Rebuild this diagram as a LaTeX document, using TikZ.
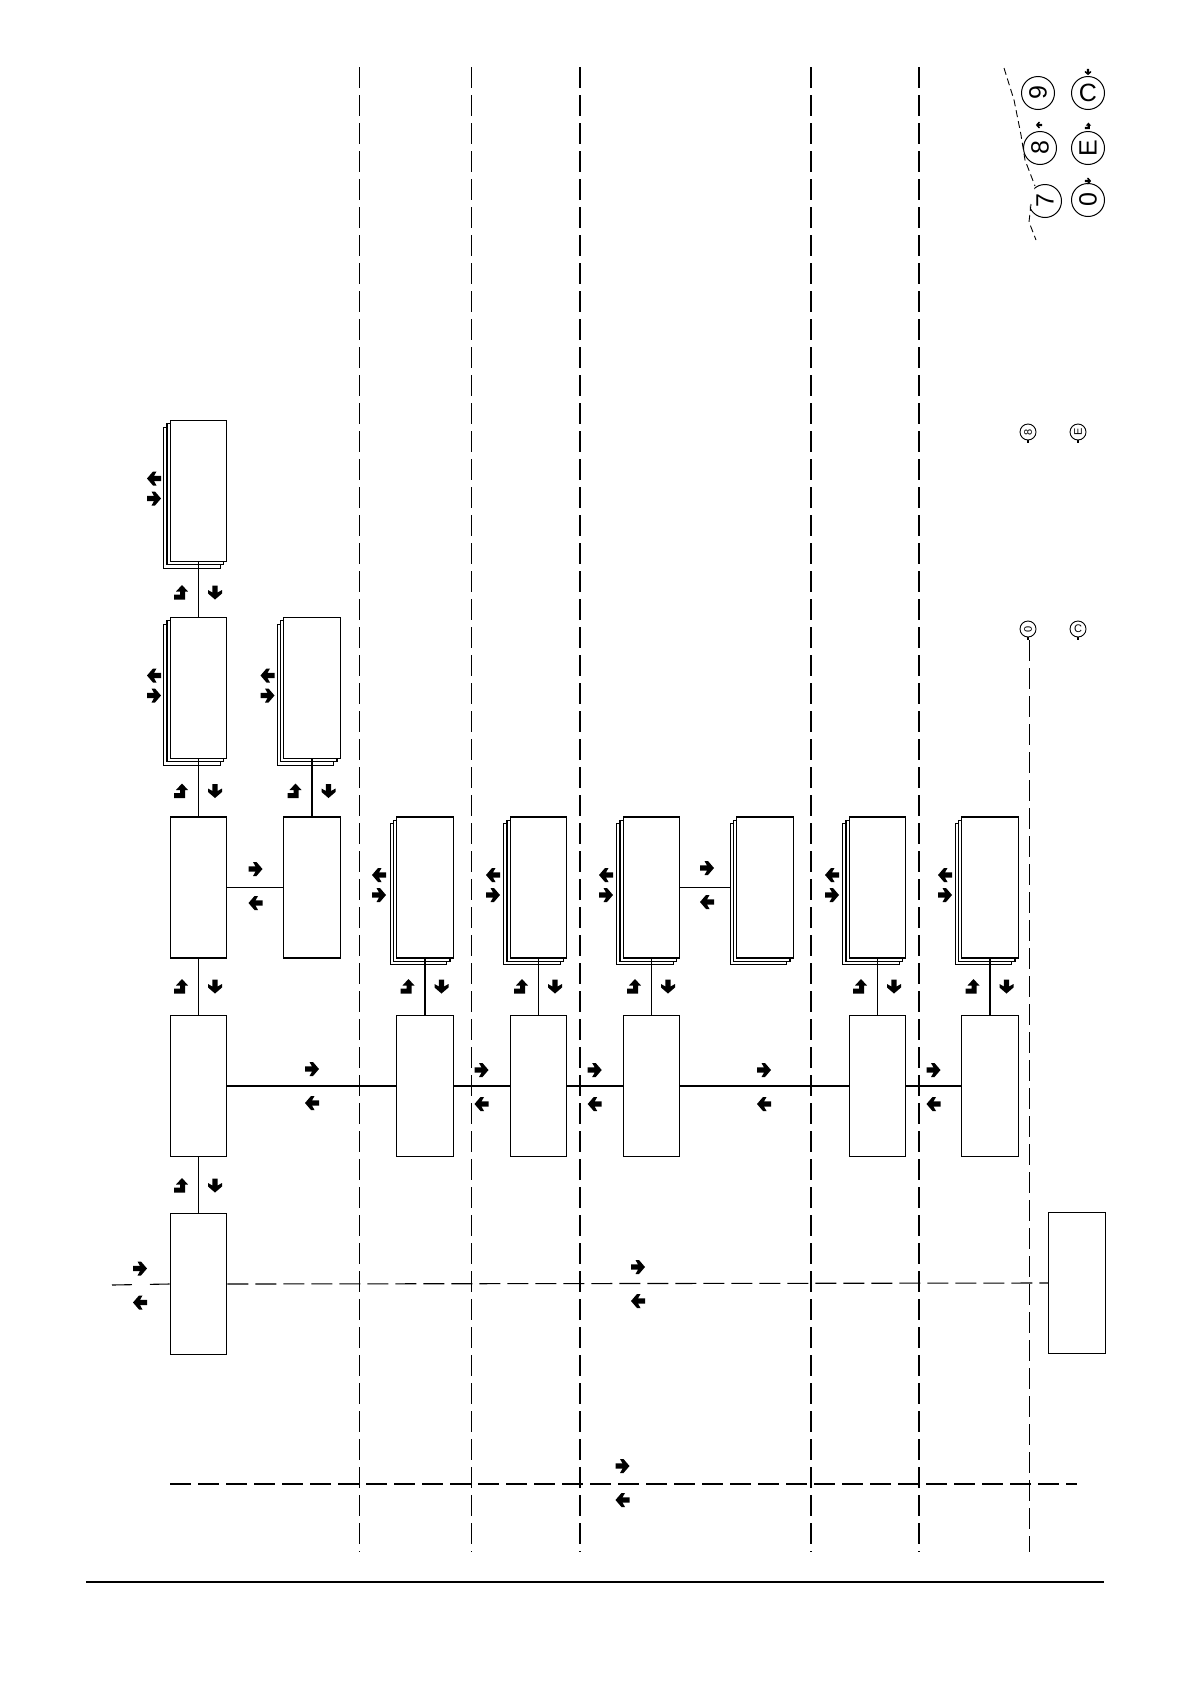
\documentclass[tikz,border=0pt]{standalone}
\usepackage{fontspec}
\usepackage{graphicx}
\setmainfont{Liberation Sans}
\usetikzlibrary{shadows}
\tikzset{
 box/.style={draw, fill=white, line width=1.1pt, minimum width=56.5pt, minimum height=141pt, inner sep=0pt},
 stackbox/.style={box, double copy shadow={shadow xshift=-3.3pt, shadow yshift=-3.3pt}},
 conn/.style={line width=1.1pt},
 dline/.style={line width=1.1pt, dash pattern=on 21pt off 7pt},
 keycirc/.style={line width=1pt},
 keytext/.style={inner sep=0pt, font=\fontsize{25}{25}\selectfont},
 smalltext/.style={inner sep=0pt, font=\fontsize{11}{11}\selectfont},
 rarr/.pic={\fill (-7,-2.6) -- (0,-2.6) -- (-2.5,-7) -- (1,-7) -- (7,0) -- (1,7) -- (-2.5,7) -- (0,2.6) -- (-7,2.6) -- cycle;},
 larr/.pic={\fill (7,-2.6) -- (0,-2.6) -- (2.5,-7) -- (-1,-7) -- (-7,0) -- (-1,7) -- (2.5,7) -- (0,2.6) -- (7,2.6) -- cycle;},
 darr/.pic={\fill (2.6,-7) -- (2.6,0) -- (7,-2.5) -- (7,1) -- (0,7) -- (-7,1) -- (-7,-2.5) -- (-2.6,0) -- (-2.6,-7) -- cycle;},
 uarr/.pic={\fill (1,-7.5) -- (7,-1) -- (4,-1) -- (4,7) -- (-7,7) -- (-7,2) -- (-0.8,2) -- (-0.8,-1) -- (-5,-1) -- cycle;},
}
\newcommand\vpairs[2]{\pic at ({#1-17.5},{#2}) {uarr}; \pic at ({#1+16.5},{#2}) {darr};}
\newcommand\hpairs[2]{\pic at ({#1},{#2-17}) {rarr}; \pic at ({#1},{#2+17}) {larr};}
\newcommand\spairs[2]{\pic at ({#1},{#2-12.5}) {larr}; \pic at ({#1},{#2+7.5}) {rarr};}
\begin{document}
\begin{tikzpicture}[x=1pt,y=-1pt]
\useasboundingbox (0,0) rectangle (1190,1684);
\fill[white] (0,0) rectangle (1190,1684);

% vertical dashed separators
\foreach \vx/\vt [count=\i] in {359.5/67, 471.7/67, 580/67, 811/67, 919/67, 1029.3/640}{
  \coordinate (vt\i) at (\vx,\vt);
  \coordinate (vb\i) at (\vx,1552);
  \draw[dline] (vt\i) -- (vb\i);
}

% boxes
\node[box] (A1) at (198.5,1284) {};
\node[box] (A2) at (198.5,1086) {};
\node[box] (A3) at (198.5,887.5) {};
\node[stackbox] (A4) at (198.5,688) {};
\node[stackbox] (A5) at (198.5,491) {};
\node[box] (B3) at (312,887.5) {};
\node[stackbox] (B4) at (312,688) {};
\node[box] (C2) at (425,1086) {};
\node[stackbox] (C3) at (425,887.5) {};
\node[box] (D2) at (538.5,1086) {};
\node[stackbox] (D3) at (538.5,887.5) {};
\node[box] (E2) at (651.5,1086) {};
\node[stackbox] (E3) at (651.5,887.5) {};
\node[stackbox] (F3) at (765,887.5) {};
\node[box] (G2) at (877.5,1086) {};
\node[stackbox] (G3) at (877.5,887.5) {};
\node[box] (H2) at (990,1086) {};
\node[stackbox] (H3) at (990,887.5) {};
\node[box] (R) at (1077,1283) {};

% connectors
\draw[conn] (A1.north) -- (A2.south);
\draw[conn] (A2.north) -- (A3.south);
\draw[conn] (A3.north) -- (A4.south);
\draw[conn] (A4.north) -- (A5.south);
\draw[conn] (B3.north) -- (B4.south);
\draw[conn] (A3.east) -- (B3.west);
\draw[conn] (A2.east) -- (C2.west);
\draw[conn] (C2.east) -- (D2.west);
\draw[conn] (D2.east) -- (E2.west);
\draw[conn] (E2.east) -- (G2.west);
\draw[conn] (G2.east) -- (H2.west);
\draw[conn] (C2.north) -- (C3.south);
\draw[conn] (D2.north) -- (D3.south);
\draw[conn] (E2.north) -- (E3.south);
\draw[conn] (G2.north) -- (G3.south);
\draw[conn] (H2.north) -- (H3.south);
\draw[conn] (E3.east) -- ([xshift=-6.6pt]F3.west);

% dashed horizontal lines
\draw[dline] (A1.east) -- (R.west);
\coordinate (inL) at (112,1285);
\draw[line width=1.1pt, dash pattern=on 20pt off 18pt] (inL) -- (A1.west);
\coordinate (h2a) at (170,1484);
\coordinate (h2b) at (1077,1484);
\draw[dline] (h2a) -- (h2b);

% bottom rule
\coordinate (bl) at (86,1582);
\coordinate (br) at (1104,1582);
\draw[line width=1.3pt] (bl) -- (br);

% arrow pairs
\vpairs{198.5}{1185.5}
\vpairs{198.5}{986.5}
\vpairs{198.5}{791}
\vpairs{198.5}{592.5}
\vpairs{312}{791}
\vpairs{425}{986.5}
\vpairs{538.5}{986.5}
\vpairs{651.5}{986.5}
\vpairs{877.5}{986.5}
\vpairs{990}{986.5}
\hpairs{312}{1086}
\hpairs{481.5}{1087}
\hpairs{594.7}{1087}
\hpairs{764}{1087}
\hpairs{933.5}{1087}
\hpairs{255.5}{886}
\hpairs{707}{885}
\hpairs{638}{1284}
\hpairs{140}{1285.5}
\hpairs{622.5}{1483}
\spairs{154}{491}
\spairs{154}{688}
\spairs{267.5}{688}
\spairs{379}{887.5}
\spairs{493}{887.5}
\spairs{606}{887.5}
\spairs{832}{887.5}
\spairs{945}{887.5}

% keypad fragment
\draw[keycirc] (1038,93) circle (16.5);
\node[keytext] (k9) at (1038,93) {\rotatebox{90}{9}};
\draw[keycirc] (1040,148) circle (16.5);
\node[keytext] (k8) at (1040,148) {\rotatebox{90}{8}};
\draw[keycirc] (1088,93) circle (16.5);
\node[keytext] (kC) at (1088,93) {C};
\draw[keycirc] (1088,148) circle (16.5);
\node[keytext] (kE) at (1088,148) {\rotatebox{90}{E}};
\draw[keycirc] (1088,200) circle (16.5);
\node[keytext] (k0) at (1088,200) {\rotatebox{90}{0}};
\begin{scope}
  \clip (1004,60) -- (1014,100) -- (1021,135) -- (1025,160) -- (1035,186) -- (1030,205) -- (1029,222) -- (1036,245) -- (1070,245) -- (1070,60) -- cycle;
  \draw[keycirc] (1045,201) circle (16.5);
  \node[keytext] (k7) at (1045,201) {\rotatebox{90}{7}};
\end{scope}
\draw[line width=0.9pt, dash pattern=on 7pt off 4pt] (1004,68) -- (1014,100) -- (1021,135) -- (1025,160) -- (1035,186);
\draw[line width=0.9pt, dash pattern=on 7pt off 4pt] (1031,204) -- (1029,222) -- (1036,240);
\pic[scale=0.45] at (1039,125) {larr};
\pic[scale=0.45] at (1088,72) {darr};
\pic[scale=0.45] at (1088,126) {uarr};
\pic[scale=0.45] at (1088,181) {rarr};

% small key icons
\foreach \sx/\sy/\st [count=\j] in {1028/432/8, 1078/432/E, 1028/629/0}{
  \draw[line width=0.9pt] (\sx,\sy) circle (8);
  \node[smalltext] (s\j) at (\sx,\sy) {\rotatebox{90}{\st}};
  \draw[line width=1.2pt] (\sx,\sy+8) -- (\sx,\sy+10.5);
}
\draw[line width=0.9pt] (1078,629) circle (8);
\node[smalltext] (s4) at (1078,629) {C};
\draw[line width=1.2pt] (1078,637) -- (1078,639.5);
\end{tikzpicture}
\end{document}
